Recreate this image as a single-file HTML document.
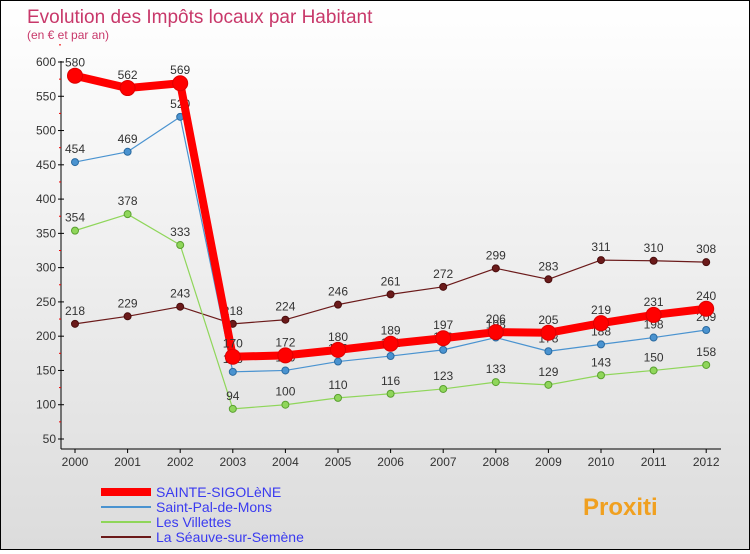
<!DOCTYPE html>
<html><head><meta charset="utf-8">
<style>
body{margin:0;width:750px;height:550px;overflow:hidden;font-family:"Liberation Sans",sans-serif;}
#wrap{position:relative;width:748px;height:548px;border:1px solid #000;background:linear-gradient(#ffffff,#dcdcdc);}
</style></head><body>
<div id="wrap">
<svg id="chart" width="748" height="548"></svg>
</div>
<script>
const years=["2000","2001","2002","2003","2004","2005","2006","2007","2008","2009","2010","2011","2012"];
const sainte=[580,562,569,170,172,180,189,197,206,205,219,231,240];
const stpal=[454,469,520,148,150,163,171,180,198,178,188,198,209];
const villettes=[354,378,333,94,100,110,116,123,133,129,143,150,158];
const seauve=[218,229,243,218,224,246,261,272,299,283,311,310,308];
const yTicks=[50,100,150,200,250,300,350,400,450,500,550,600];
const names=["SAINTE-SIGOLèNE","Saint-Pal-de-Mons","Les Villettes","La Séauve-sur-Semène"];
const NS="http://www.w3.org/2000/svg";
const svg=document.getElementById('chart');
function x(i){return 74+i*52.6;}
function y(v){return 438-(v-50)*(377/550);}
function mk(t,a,p){const e=document.createElementNS(NS,t);for(const k in a)e.setAttribute(k,a[k]);(p||svg).appendChild(e);return e;}
let t=mk('text',{x:26,y:22,'font-size':19,fill:'#c8386a'});t.textContent="Evolution des Impôts locaux par Habitant";

t=mk('text',{x:26,y:38,'font-size':12,fill:'#c8386a'});t.textContent="(en € et par an)";

let ax=mk('line',{x1:60,y1:60,x2:60,y2:448,stroke:'#000'});

ax=mk('line',{x1:60,y1:448,x2:720,y2:448,stroke:'#000'});

yTicks.forEach(v=>{mk('line',{x1:57,y1:y(v),x2:63,y2:y(v),stroke:'#000'});
 mk('line',{x1:58,y1:y(v+25),x2:60,y2:y(v+25),stroke:'#e00'});
 const l=mk('text',{x:55,y:y(v)+4,'font-size':12,fill:'#333','text-anchor':'end'});l.textContent=v;
 });
years.forEach((yr,i)=>{mk('line',{x1:x(i),y1:448,x2:x(i),y2:452,stroke:'#000'});
 const l=mk('text',{x:x(i),y:465,'font-size':12,fill:'#333','text-anchor':'middle'});l.textContent=yr;
 });
function series(data,color,w,r,name,dot){
 const g=mk('g',{});
 mk('polyline',{points:data.map((v,i)=>x(i)+','+y(v)).join(' '),fill:'none',stroke:color,'stroke-width':w,'stroke-linejoin':'round'},g);
 data.forEach((v,i)=>{const c=mk('circle',{cx:x(i),cy:y(v),r:r,fill:color,stroke:dot,'stroke-width':1},g);
  
  const l=mk('text',{x:x(i),y:y(v)-9,'font-size':12,fill:'#333','text-anchor':'middle'},g);l.textContent=v;
  });
}
series(seauve,'#6b1a1a',1.2,3.5,'seauve-series','#4a0e0e');
series(villettes,'#8fd65a',1.2,3.5,'villettes-series','#5aa030');
series(stpal,'#4a93d0',1.2,3.5,'saint-pal-series','#2a6aa0');
series(sainte,'#f00',8,7.5,'sainte-sigolene-series','#d00');
const lc=['#f00','#4a93d0','#8fd65a','#6b1a1a'],lw=[8,2,2,2];
names.forEach((n,i)=>{const g=mk('g',{});
 const yy=491+i*15;mk('line',{x1:100,y1:yy,x2:150,y2:yy,stroke:lc[i],'stroke-width':lw[i]},g);
 const l=mk('text',{x:155,y:yy+5,'font-size':14,fill:'#3a3af0'},g);l.textContent=n;});
t=mk('text',{x:582,y:514,'font-size':24,'font-weight':'bold',fill:'#f0a020'});t.textContent="Proxiti";

</script>
</body></html>
